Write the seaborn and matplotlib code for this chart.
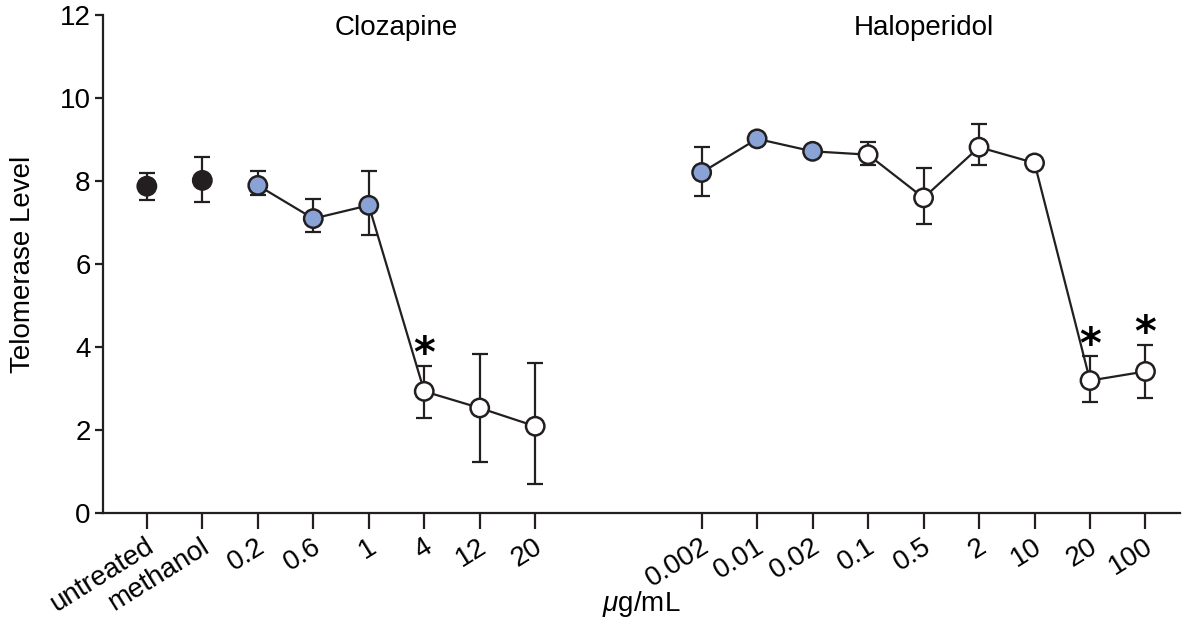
import numpy as np
import pandas as pd
import matplotlib
matplotlib.use("Agg")
import matplotlib.pyplot as plt
import matplotlib.transforms as mtransforms
import seaborn as sns

# ---- data ----
cloz_labels = ['untreated', 'methanol', '0.2', '0.6', '1', '4', '12', '20']
cloz_level = [7.88, 8.02, 7.90, 7.10, 7.42, 2.94, 2.54, 2.10]
cloz_lo = [7.54, 7.50, 7.66, 6.78, 6.71, 2.30, 1.24, 0.70]
cloz_hi = [8.21, 8.58, 8.24, 7.58, 8.25, 3.54, 3.84, 3.62]
cloz_fill = ['control', 'control', 'blue', 'blue', 'blue', 'open', 'open', 'open']

halo_labels = ['0.002', '0.01', '0.02', '0.1', '0.5', '2', '10', '20', '100']
halo_level = [8.21, 9.02, 8.72, 8.64, 7.60, 8.82, 8.44, 3.20, 3.42]
halo_lo = [7.64, 8.92, 8.62, 8.40, 6.98, 8.39, 8.36, 2.68, 2.78]
halo_hi = [8.82, 9.12, 8.82, 8.94, 8.33, 9.38, 8.52, 3.78, 4.06]
halo_fill = ['blue', 'blue', 'blue', 'open', 'open', 'open', 'open', 'open', 'open']

star_labels = [('Clozapine', '4'), ('Haloperidol', '20'), ('Haloperidol', '100')]
star_y = [4.02, 4.24, 4.52]

fill_colors = {'control': '#231f20', 'blue': '#8aa3d6', 'open': 'white'}

# ---- table ----
cloz = pd.DataFrame({'drug': 'Clozapine', 'dose': cloz_labels, 'level': cloz_level,
                     'lo': cloz_lo, 'hi': cloz_hi, 'fill': cloz_fill,
                     'pos': np.arange(len(cloz_labels))})
halo = pd.DataFrame({'drug': 'Haloperidol', 'dose': halo_labels, 'level': halo_level,
                     'lo': halo_lo, 'hi': halo_hi, 'fill': halo_fill,
                     'pos': np.arange(len(halo_labels)) + len(cloz_labels) + 2})
df = pd.concat([cloz, halo], ignore_index=True)

sns.set_style("ticks")
plt.rcParams['font.family'] = ['Liberation Sans', 'DejaVu Sans']
plt.rcParams['mathtext.fontset'] = 'custom'
plt.rcParams['mathtext.it'] = 'Liberation Sans:italic'
plt.rcParams['text.color'] = 'black'
plt.rcParams['axes.labelcolor'] = 'black'
plt.rcParams['xtick.color'] = 'black'
plt.rcParams['ytick.color'] = 'black'

fig = plt.figure(figsize=(11.84, 6.3), dpi=100)
ax = fig.add_axes([0.087, 0.185, 0.91, 0.791])
ink = '#231f20'
fs = 20

# connecting lines (controls are not joined)
for drug, sub in df[df['fill'] != 'control'].groupby('drug'):
    sns.lineplot(data=sub, x='pos', y='level', color=ink, linewidth=1.6,
                 estimator=None, sort=False, ax=ax, zorder=1)

# error bars
ax.errorbar(df['pos'], df['level'],
            yerr=[df['level'] - df['lo'], df['hi'] - df['level']],
            fmt='none', ecolor=ink, elinewidth=1.6, capsize=6, capthick=1.6, zorder=2)

# markers
sns.scatterplot(data=df, x='pos', y='level', hue='fill', palette=fill_colors,
                s=175, edgecolor=ink, linewidth=1.8, legend=False, ax=ax, zorder=3)

# significance stars
for (drug, dose), y in zip(star_labels, star_y):
    x = df.loc[(df['drug'] == drug) & (df['dose'] == dose), 'pos'].iloc[0]
    ax.annotate('*', (x, y), xytext=(0, -6), textcoords='offset points',
                ha='center', va='center', fontsize=30, fontweight='bold',
                family='DejaVu Sans', color='black')

# group titles
ax.text(cloz['pos'].iloc[2:].mean(), 11.7, 'Clozapine', ha='center', va='center', fontsize=fs)
ax.text(halo['pos'].mean(), 11.7, 'Haloperidol', ha='center', va='center', fontsize=fs)

ax.set_xlim(-0.79, df['pos'].max() + 0.63)
ax.set_ylim(0, 12)
ax.set_yticks([0, 2, 4, 6, 8, 10, 12])
ax.set_xticks(df['pos'])
ax.set_xticklabels(df['dose'], rotation=32, ha='right', va='top', fontsize=fs)
ax.tick_params(axis='y', labelsize=fs, length=6, width=1.6, color=ink, pad=3)
ax.tick_params(axis='x', length=11.5, width=1.6, color=ink, pad=3)
for s in ['left', 'bottom']:
    ax.spines[s].set_linewidth(1.6)
    ax.spines[s].set_color(ink)
sns.despine(ax=ax)

ax.set_xlabel('$\\mu$g/mL', fontsize=fs)
ax.xaxis.set_label_coords(0.5, -0.152)
ax.set_ylabel('Telomerase Level', fontsize=fs, labelpad=17)

# nudge the rotated tick labels so their ends sit just right of the ticks
shift = mtransforms.ScaledTranslation(12 / 100, 0, fig.dpi_scale_trans)
for lab in ax.get_xticklabels():
    lab.set_transform(lab.get_transform() + shift)

fig.savefig('out.png', dpi=100)
